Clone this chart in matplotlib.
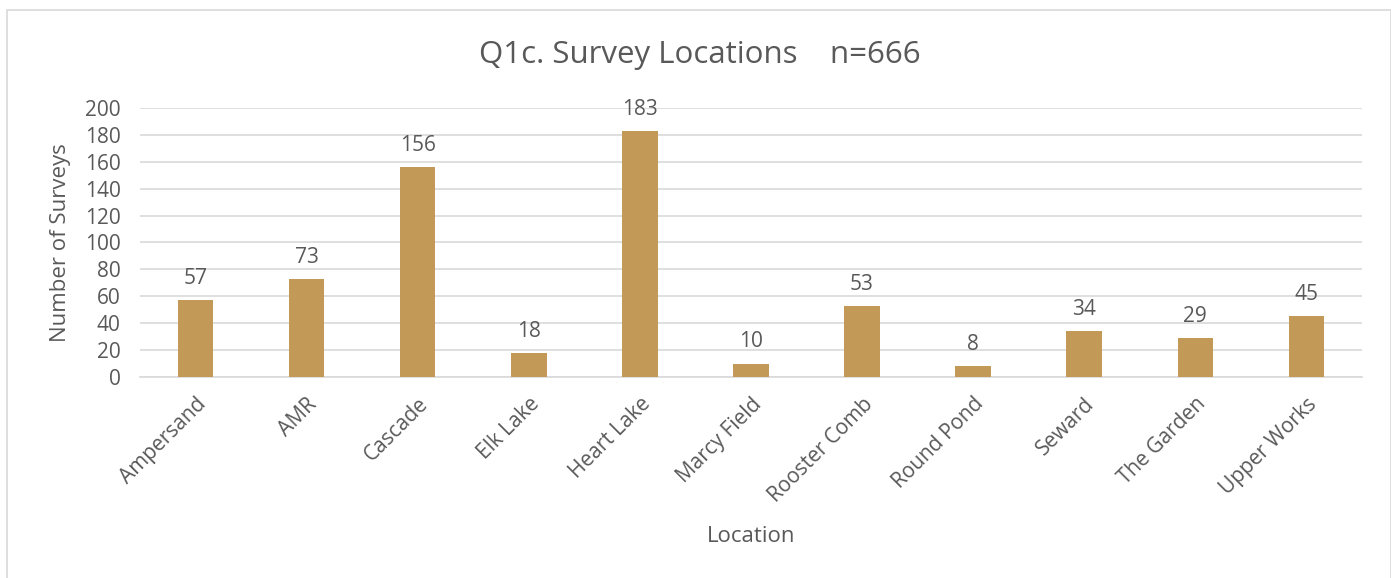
import matplotlib.pyplot as plt
from matplotlib.patches import Rectangle

locations = ["Ampersand", "AMR", "Cascade", "Elk Lake", "Heart Lake", "Marcy Field",
             "Rooster Comb", "Round Pond", "Seward", "The Garden", "Upper Works"]
surveys = [57, 73, 156, 18, 183, 10, 53, 8, 34, 29, 45]
yticks = [0, 20, 40, 60, 80, 100, 120, 140, 160, 180, 200]

plt.rcParams['font.family'] = ['Open Sans', 'DejaVu Sans']
text_color = "#595959"
bar_color = "#C39957"
grid_color = "#D9D9D9"

fig = plt.figure(figsize=(13.91, 5.78), dpi=100)
# outer chart border
fig.patches.append(Rectangle((0.005, -0.01), 0.995, 0.993, transform=fig.transFigure,
                             fill=False, edgecolor=grid_color, linewidth=1.2))

ax = fig.add_axes([0.1006, 0.3478, 0.8785, 0.4653])
x = range(len(locations))
bars = ax.bar(x, surveys, width=0.32, color=bar_color, zorder=3)

for xi, v in zip(x, surveys):
    ax.annotate(str(v), (xi, v), xytext=(0, 8), textcoords="offset points",
                ha="center", va="bottom", fontsize=15, color=text_color)

ax.set_xlim(-0.5, len(locations) - 0.5)
ax.set_ylim(0, 200)
ax.set_yticks(yticks)
ax.set_xticks(list(x))
ax.set_xticklabels(locations, rotation=45, ha="right", rotation_mode="anchor")
ax.tick_params(axis="both", length=0, labelsize=15, colors=text_color)
ax.tick_params(axis="y", pad=14)
ax.tick_params(axis="x", pad=12)
ax.grid(axis="y", color=grid_color, linewidth=1.2, zorder=0)
for s in ["top", "right", "left"]:
    ax.spines[s].set_visible(False)
ax.spines["bottom"].set_color(grid_color)
ax.spines["bottom"].set_linewidth(1.2)

ax.set_ylabel("Number of Surveys", fontsize=16, color=text_color, labelpad=10)
ax.set_xlabel("Location", fontsize=16, color=text_color, labelpad=14)
fig.text(0.503, 0.905, "Q1c. Survey Locations    n=666", ha="center", va="center",
         fontsize=22.5, color=text_color)

fig.savefig("out.png", dpi=100)
